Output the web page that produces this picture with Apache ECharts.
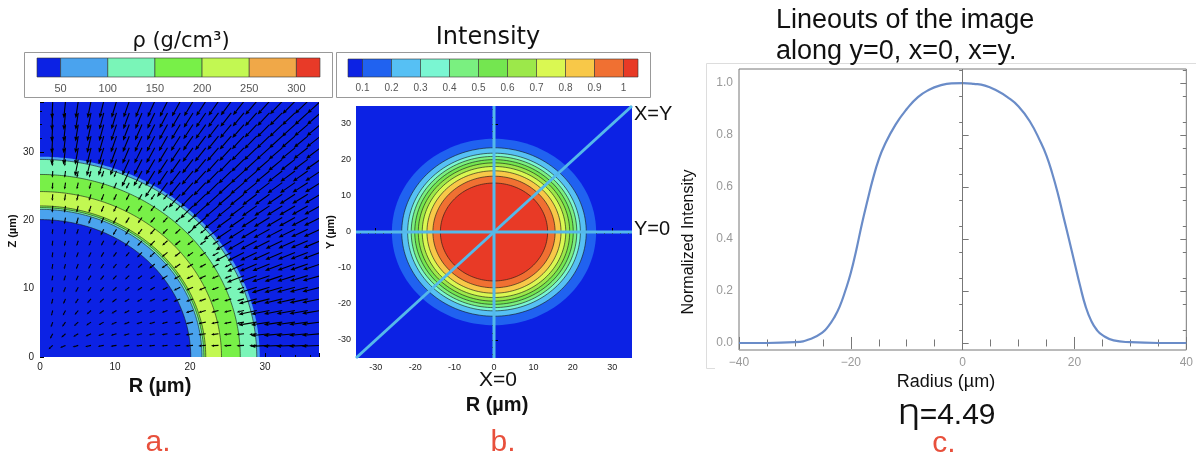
<!DOCTYPE html>
<html><head><meta charset="utf-8">
<script src="https://cdn.jsdelivr.net/npm/echarts@6/dist/echarts.min.js"></script>
<style>html,body{margin:0;padding:0;background:#fff}#c{width:1196px;height:459px}</style>
</head><body><div id="c"></div><script>
// ---------- data ----------
// panel a: density colour bar and shell boundaries
const rhoTicks = [50, 100, 150, 200, 250, 300];
const rhoBarEnds = [25, 325];
const rhoColors = ['#0c22e4', '#4aa3ee', '#7af5b8', '#78f048', '#c2f852', '#f0a848', '#e83a28'];
const rhoShellRadii = [29.3, 28.9, 26.7, 24.2, 22.1, 21.85, 21.6, 20.1];
const rhoShellLevel = [1, 2, 3, 4, 3, 2, 1, 0];
const panelATicks = [0, 10, 20, 30];
// panel a: inward flow arrows, length by radial zone (um)
const flowZoneOuterRadius = [20.1, 29.3, 99];
const flowArrowLength = [0.8, 1.0, 2.5];
const flowStep = 1.7;
// panel b: intensity colour bar and contour radii
const intensityTicks = [0.1, 0.2, 0.3, 0.4, 0.5, 0.6, 0.7, 0.8, 0.9, 1];
const intensityBarEnds = [0.05, 1.05];
const intensityColors = ['#0c22e4', '#2062f0', '#56c0f4', '#7af6d2', '#7af080', '#74e650', '#9ce84a', '#daf852', '#f8c848', '#f07032', '#e83a26'];
const intensityContourRadii = [25.9, 23.4, 21.9, 21.0, 20.1, 19.2, 18.2, 17.0, 15.5, 13.6];
const intensityContourLevel = [1, 2, 3, 4, 5, 6, 7, 8, 9, 10];
const panelBTicks = [-30, -20, -10, 0, 10, 20, 30];
// panel c: lineout
const lineoutRadius = [-40, -35, -30, -27, -25, -24, -23, -22, -21, -20, -19, -18, -17, -16, -15, -14, -12, -10, -8, -6, -4, -2, 0,
  2, 4, 6, 8, 10, 12, 14, 15, 16, 17, 18, 19, 20, 21, 22, 23, 24, 25, 27, 30, 35, 40];
const lineoutIntensity = [0, 0, 0.003, 0.017, 0.042, 0.065, 0.097, 0.14, 0.2, 0.27, 0.36, 0.46, 0.55, 0.635, 0.706, 0.76, 0.84, 0.90, 0.946, 0.974, 0.991, 0.999, 1.0,
  0.997, 0.99, 0.972, 0.946, 0.91, 0.853, 0.77, 0.72, 0.654, 0.577, 0.488, 0.40, 0.31, 0.22, 0.14, 0.085, 0.05, 0.03, 0.01, 0.003, 0, 0];
const lineoutYTicks = [0, 0.2, 0.4, 0.6, 0.8, 1.0];

// ---------- helpers ----------
const FONT = 'Liberation Sans, Arial, sans-serif';
function range(a, b, s) { const o = []; for (let v = a; v <= b + 1e-9; v += s) o.push(+v.toFixed(4)); return o; }

function ringRender(colors, full) {
  return function (params, api) {
    const r = api.value(0), lvl = api.value(1), stroke = api.value(2);
    const n = 160, a1 = full ? 2 * Math.PI : Math.PI / 2;
    const arc = [];
    for (let i = 0; i <= n; i++) {
      const t = a1 * i / n;
      arc.push(api.coord([r * Math.cos(t), r * Math.sin(t)]));
    }
    const fillPts = full ? arc : [api.coord([0, 0])].concat(arc);
    const children = [{ type: 'polygon', shape: { points: fillPts }, style: { fill: colors[lvl], stroke: null } }];
    if (stroke) children.push({ type: 'polyline', shape: { points: arc }, style: { fill: null, stroke: 'rgba(20,20,20,0.75)', lineWidth: 0.8 } });
    return { type: 'group', children: children };
  };
}

function barRender(colors) {
  return function (params, api) {
    const a = api.coord([api.value(0), 0]), b = api.coord([api.value(1), 1]);
    return { type: 'rect', shape: { x: a[0], y: b[1], width: b[0] - a[0], height: a[1] - b[1] },
      style: { fill: colors[api.value(2)], stroke: '#333', lineWidth: 0.6 } };
  };
}

function arrowRender(params, api) {
  const x = api.value(0), y = api.value(1), len = api.value(2);
  const r = Math.hypot(x, y), ux = x / r, uy = y / r;
  const p0 = api.coord([x, y]), p1 = api.coord([x - len * ux, y - len * uy]);
  const dx = p1[0] - p0[0], dy = p1[1] - p0[1], L = Math.hypot(dx, dy);
  const ex = dx / L, ey = dy / L;
  const hl = Math.min(4.5, L * 0.4), hw = hl * 0.42;
  const base = [p1[0] - ex * hl, p1[1] - ey * hl];
  return { type: 'group', children: [
    { type: 'line', shape: { x1: p0[0], y1: p0[1], x2: base[0], y2: base[1] }, style: { stroke: '#000', lineWidth: 1.1 } },
    { type: 'polygon', shape: { points: [p1, [base[0] - ey * hw, base[1] + ex * hw], [base[0] + ey * hw, base[1] - ex * hw]] }, style: { fill: '#000' } }
  ] };
}

// ---------- derived series data ----------
const rhoRings = rhoShellRadii.map((r, i) => [r, rhoShellLevel[i], i === 0 ? 0 : 1]);
const intensityRings = intensityContourRadii.map((r, i) => [r, intensityContourLevel[i], i === 0 ? 0 : 1]);
const rhoBounds = [rhoBarEnds[0]].concat(rhoTicks, [rhoBarEnds[1]]);
const rhoBlocks = rhoBounds.slice(0, -1).map((lo, i) => [lo, rhoBounds[i + 1], i]);
const intBounds = [intensityBarEnds[0]].concat(intensityTicks, [intensityBarEnds[1]]);
const intBlocks = intBounds.slice(0, -1).map((lo, i) => [lo, intBounds[i + 1], i]);
const arrows = [];
for (let i = 1; i * flowStep < 38.5; i++) {
  for (let j = 1; j * flowStep < 38.5; j++) {
    const x = i * flowStep, y = j * flowStep, r = Math.hypot(x, y);
    let z = 0; while (r > flowZoneOuterRadius[z]) z++;
    arrows.push([x, y, flowArrowLength[z]]);
  }
}
const lineout = lineoutRadius.map((x, i) => [x, lineoutIntensity[i]]);

// ---------- chart ----------
const chart = echarts.init(document.getElementById('c'), null, { renderer: 'canvas' });
const tecLabel = { fontSize: 10, color: '#222', fontFamily: FONT };
const hidden = { axisLine: { show: false }, axisTick: { show: false }, axisLabel: { show: false }, splitLine: { show: false } };
const mmaTickStyle = { lineStyle: { color: '#777', width: 1 } };

chart.setOption({
  animation: false,
  backgroundColor: '#fff',
  grid: [
    { left: 40, top: 102, width: 279, height: 255, show: true, backgroundColor: '#0c22e4', borderWidth: 0 },
    { left: 356, top: 106, width: 276, height: 252, show: true, backgroundColor: '#0c22e4', borderWidth: 0 },
    { left: 739, top: 69, width: 450, height: 281, show: true, backgroundColor: '#fff', borderColor: '#777', borderWidth: 1 },
    { left: 37, top: 58, width: 283, height: 19 },
    { left: 348, top: 59, width: 290, height: 18 }
  ],
  xAxis: [
    { gridIndex: 0, type: 'value', min: 0, max: 37.2, interval: 10, axisLine: { show: false },
      axisTick: { inside: true, length: 4, lineStyle: { color: '#000' } },
      minorTick: { show: true, splitNumber: 5, length: 2, lineStyle: { color: '#000' } },
      axisLabel: Object.assign({ margin: 5, customValues: panelATicks }, tecLabel), splitLine: { show: false } },
    { gridIndex: 1, type: 'value', min: -35, max: 35, axisLine: { show: false },
      axisTick: { inside: true, length: 4, customValues: panelBTicks, lineStyle: { color: '#000' } },
      axisLabel: Object.assign({ margin: 5, customValues: panelBTicks }, tecLabel, { fontSize: 9 }), splitLine: { show: false } },
    Object.assign({ gridIndex: 1, type: 'value', min: -35, max: 35 }, hidden,
      { axisTick: { show: true, inside: true, length: 2, customValues: range(-34, 34, 2), lineStyle: { color: '#000' } } }),
    { gridIndex: 2, type: 'value', min: -40, max: 40, interval: 20, axisLine: { show: false },
      axisTick: { inside: true, length: 6, lineStyle: { color: '#777' } },
      minorTick: { show: true, splitNumber: 4, length: 3.5, lineStyle: { color: '#777' } },
      axisLabel: { margin: 7, fontSize: 12, color: '#999', fontFamily: FONT, formatter: v => v < 0 ? '\u2212' + (-v) : String(v) },
      splitLine: { show: false } },
    { gridIndex: 2, type: 'value', position: 'top', min: -40, max: 40, interval: 20, axisLine: { show: false },
      axisTick: { inside: true, length: 6, lineStyle: { color: '#777' } },
      minorTick: { show: true, splitNumber: 4, length: 3.5, lineStyle: { color: '#777' } },
      axisLabel: { show: false }, splitLine: { show: false } },
    { gridIndex: 3, type: 'value', min: rhoBarEnds[0], max: rhoBarEnds[1], axisLine: { show: false }, axisTick: { show: false },
      axisLabel: { customValues: rhoTicks, margin: 6, fontSize: 11, color: '#555', fontFamily: FONT }, splitLine: { show: false } },
    { gridIndex: 4, type: 'value', min: intensityBarEnds[0], max: intensityBarEnds[1], axisLine: { show: false }, axisTick: { show: false },
      axisLabel: { customValues: intensityTicks, margin: 6, fontSize: 10, color: '#555', fontFamily: 'Liberation Sans Narrow, Liberation Sans, Arial, sans-serif' }, splitLine: { show: false } }
  ],
  yAxis: [
    { gridIndex: 0, type: 'value', min: 0, max: 37.3, interval: 10, axisLine: { show: false },
      axisTick: { inside: true, length: 4, lineStyle: { color: '#000' } },
      minorTick: { show: true, splitNumber: 5, length: 2, lineStyle: { color: '#000' } },
      axisLabel: Object.assign({ margin: 6, customValues: panelATicks }, tecLabel), splitLine: { show: false } },
    { gridIndex: 1, type: 'value', min: -35, max: 35, axisLine: { show: false },
      axisTick: { inside: true, length: 4, customValues: panelBTicks, lineStyle: { color: '#000' } },
      axisLabel: Object.assign({ margin: 5, customValues: panelBTicks }, tecLabel, { fontSize: 9 }), splitLine: { show: false } },
    Object.assign({ gridIndex: 1, type: 'value', min: -35, max: 35 }, hidden,
      { axisTick: { show: true, inside: true, length: 2, customValues: range(-34, 34, 2), lineStyle: { color: '#000' } } }),
    { gridIndex: 2, type: 'value', min: -0.027, max: 1.054, axisLine: { show: false },
      axisTick: Object.assign({ inside: true, length: 6, customValues: lineoutYTicks }, mmaTickStyle),
      axisLabel: { customValues: lineoutYTicks, margin: 6, fontSize: 12, color: '#999', fontFamily: FONT, formatter: v => v.toFixed(1) },
      splitLine: { show: false } },
    Object.assign({ gridIndex: 2, type: 'value', min: -0.027, max: 1.054 }, hidden,
      { axisTick: Object.assign({ show: true, inside: true, length: 3.5, customValues: range(0.05, 1.05, 0.1) }, mmaTickStyle) }),
    Object.assign({ gridIndex: 2, type: 'value', position: 'right', min: -0.027, max: 1.054 }, hidden,
      { axisTick: Object.assign({ show: true, inside: true, length: 6, customValues: lineoutYTicks }, mmaTickStyle) }),
    Object.assign({ gridIndex: 2, type: 'value', position: 'right', min: -0.027, max: 1.054 }, hidden,
      { axisTick: Object.assign({ show: true, inside: true, length: 3.5, customValues: range(0.05, 1.05, 0.1) }, mmaTickStyle) }),
    Object.assign({ gridIndex: 3, type: 'value', min: 0, max: 1 }, hidden),
    Object.assign({ gridIndex: 4, type: 'value', min: 0, max: 1 }, hidden)
  ],
  series: [
    { type: 'custom', xAxisIndex: 0, yAxisIndex: 0, data: rhoRings, renderItem: ringRender(rhoColors, false), clip: true, silent: true },
    { type: 'custom', xAxisIndex: 0, yAxisIndex: 0, data: arrows, renderItem: arrowRender, clip: true, silent: true, z: 3 },
    { type: 'custom', xAxisIndex: 1, yAxisIndex: 1, data: intensityRings, renderItem: ringRender(intensityColors, true), clip: true, silent: true },
    { type: 'line', xAxisIndex: 1, yAxisIndex: 1, data: [[0, -35], [0, 35]], symbol: 'none', lineStyle: { color: '#55b9ea', width: 3 }, silent: true, z: 4 },
    { type: 'line', xAxisIndex: 1, yAxisIndex: 1, data: [[-35, 0], [35, 0]], symbol: 'none', lineStyle: { color: '#55b9ea', width: 3 }, silent: true, z: 4 },
    { type: 'line', xAxisIndex: 1, yAxisIndex: 1, data: [[-35, -35], [35, 35]], symbol: 'none', lineStyle: { color: '#55b9ea', width: 3 }, silent: true, z: 4 },
    { type: 'line', xAxisIndex: 3, yAxisIndex: 3, data: lineout, symbol: 'none', smooth: 0.5,
      lineStyle: { color: '#6a8cc8', width: 2.2 }, silent: true, z: 4,
      markLine: { silent: true, symbol: 'none', label: { show: false }, lineStyle: { color: '#777', width: 1, type: 'solid' }, data: [{ xAxis: 0 }] } },
    { type: 'custom', xAxisIndex: 5, yAxisIndex: 7, data: rhoBlocks, renderItem: barRender(rhoColors), silent: true },
    { type: 'custom', xAxisIndex: 6, yAxisIndex: 8, data: intBlocks, renderItem: barRender(intensityColors), silent: true }
  ],
  graphic: [
    { type: 'rect', shape: { x: 24.5, y: 52.5, width: 308, height: 45 }, style: { fill: 'none', stroke: '#999', lineWidth: 1 } },
    { type: 'rect', shape: { x: 336.5, y: 52.5, width: 314, height: 45 }, style: { fill: 'none', stroke: '#999', lineWidth: 1 } },
    { type: 'polyline', shape: { points: [[1196, 63.5], [706.5, 63.5], [706.5, 368.5], [715, 368.5]] }, style: { fill: 'none', stroke: '#ddd', lineWidth: 1 } },
    { type: 'text', x: 181, y: 42, style: { text: 'ρ (g/cm³)', font: '21px DejaVu Sans', fill: '#111', align: 'center', verticalAlign: 'middle' } },
    { type: 'text', x: 488, y: 38, style: { text: 'Intensity', font: '24px DejaVu Sans', fill: '#111', align: 'center', verticalAlign: 'middle' } },
    { type: 'text', x: 160, y: 386, style: { text: 'R (µm)', font: 'bold 20px ' + FONT, fill: '#111', align: 'center', verticalAlign: 'middle' } },
    { type: 'text', x: 13, y: 231, rotation: Math.PI / 2, style: { text: 'Z (µm)', font: 'bold 11px ' + FONT, fill: '#111', align: 'center', verticalAlign: 'middle' } },
    { type: 'text', x: 331, y: 232, rotation: Math.PI / 2, style: { text: 'Y (µm)', font: 'bold 11px ' + FONT, fill: '#111', align: 'center', verticalAlign: 'middle' } },
    { type: 'text', x: 497, y: 405, style: { text: 'R (µm)', font: 'bold 20px ' + FONT, fill: '#111', align: 'center', verticalAlign: 'middle' } },
    { type: 'text', x: 498, y: 380, style: { text: 'X=0', font: '21px ' + FONT, fill: '#111', align: 'center', verticalAlign: 'middle' } },
    { type: 'text', x: 634, y: 114, style: { text: 'X=Y', font: '20px ' + FONT, fill: '#111', align: 'left', verticalAlign: 'middle' } },
    { type: 'text', x: 634, y: 229, style: { text: 'Y=0', font: '20px ' + FONT, fill: '#111', align: 'left', verticalAlign: 'middle' } },
    { type: 'text', x: 776, y: 21, style: { text: 'Lineouts of the image', font: '27px ' + FONT, fill: '#111', align: 'left', verticalAlign: 'middle' } },
    { type: 'text', x: 776, y: 52, style: { text: 'along y=0, x=0, x=y.', font: '27px ' + FONT, fill: '#111', align: 'left', verticalAlign: 'middle' } },
    { type: 'text', x: 689, y: 242, rotation: Math.PI / 2, style: { text: 'Normalized Intensity', font: '16px ' + FONT, fill: '#111', align: 'center', verticalAlign: 'middle' } },
    { type: 'text', x: 946, y: 382, style: { text: 'Radius (µm)', font: '18px ' + FONT, fill: '#111', align: 'center', verticalAlign: 'middle' } },
    { type: 'text', x: 947, y: 416, style: { text: 'Ƞ=4.49', font: '30px ' + FONT, fill: '#111', align: 'center', verticalAlign: 'middle' } },
    { type: 'text', x: 158, y: 443, style: { text: 'a.', font: '30px ' + FONT, fill: '#e8503c', align: 'center', verticalAlign: 'middle' } },
    { type: 'text', x: 503, y: 443, style: { text: 'b.', font: '30px ' + FONT, fill: '#e8503c', align: 'center', verticalAlign: 'middle' } },
    { type: 'text', x: 944, y: 444, style: { text: 'c.', font: '30px ' + FONT, fill: '#e8503c', align: 'center', verticalAlign: 'middle' } }
  ]
});
</script></body></html>
